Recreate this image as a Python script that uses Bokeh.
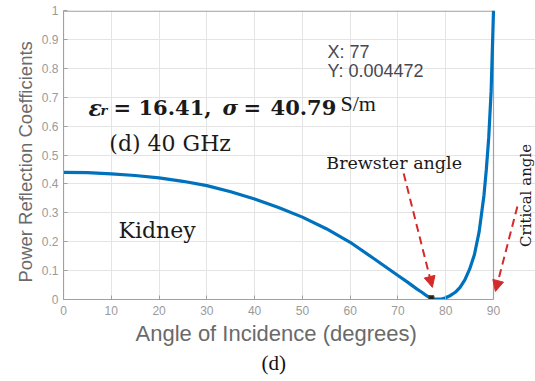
from bokeh.plotting import figure
from bokeh.models import Label, Arrow, NormalHead, Range1d, FixedTicker, Title, BoxAnnotation
from bokeh.embed import file_html
from bokeh.resources import INLINE

# Power reflection coefficient of kidney tissue at 40 GHz vs. angle of incidence
angle_deg = [0, 5, 10, 15, 20, 25, 30, 35, 40, 45, 50, 55, 60, 65, 70, 72, 74, 75,
             76, 77, 78, 79, 80, 81, 82, 83, 84, 85, 86, 87, 88, 88.5, 89, 89.5, 90]
reflection = [0.440, 0.439, 0.435, 0.429, 0.421, 0.409, 0.394, 0.373, 0.348, 0.318,
              0.285, 0.245, 0.198, 0.141, 0.083, 0.060, 0.036, 0.025, 0.013, 0.004472,
              0.001, 0.001, 0.006, 0.014, 0.025, 0.042, 0.068, 0.105, 0.155, 0.235,
              0.360, 0.450, 0.560, 0.720, 1.000]

x_ticks = [0, 10, 20, 30, 40, 50, 60, 70, 80, 90]
y_ticks = [0, 0.1, 0.2, 0.3, 0.4, 0.5, 0.6, 0.7, 0.8, 0.9, 1]
y_tick_labels = {0: "0", 0.1: "0.1", 0.2: "0.2", 0.3: "0.3", 0.4: "0.4", 0.5: "0.5",
                 0.6: "0.6", 0.7: "0.7", 0.8: "0.8", 0.9: "0.9", 1: "1"}

tip_x = 77
tip_y = 0.004472

AX_GRAY = "#a0a0a0"
TICK_GRAY = "#9a9a9a"
LABEL_GRAY = "#6a6a6a"
SERIF = "DejaVu Serif"
INK = "#1a1a1a"
RED = "#d42a2a"

# the plotting area runs past 90 deg so the right-hand annotation has room;
# the axes box itself is closed at 90 deg and at 1
p = figure(width=535, height=381, x_range=Range1d(0, 98.79), y_range=Range1d(0, 1),
           output_backend="svg", toolbar_location=None,
           min_border_left=63, min_border_right=0, min_border_top=10, min_border_bottom=82)
p.title.visible = False
p.outline_line_color = None
p.background_fill_color = "white"
p.border_fill_color = "white"

for ax in (p.xaxis[0], p.yaxis[0]):
    ax.axis_line_color = AX_GRAY
    ax.major_tick_line_color = AX_GRAY
    ax.major_tick_in = 4
    ax.major_tick_out = 0
    ax.minor_tick_line_color = None
    ax.major_label_text_color = TICK_GRAY
    ax.major_label_text_font = "Liberation Sans"
    ax.major_label_text_font_size = "12px"

p.xaxis.bounds = (0, 90)
p.xaxis.ticker = FixedTicker(ticks=x_ticks)
p.yaxis.ticker = FixedTicker(ticks=y_ticks)
p.yaxis.major_label_overrides = y_tick_labels
p.xaxis.major_label_standoff = 6
p.yaxis.major_label_standoff = 5

p.xgrid.ticker = FixedTicker(ticks=x_ticks)
p.ygrid.ticker = FixedTicker(ticks=y_ticks)
p.ygrid.bounds = (0, 90)
p.grid.grid_line_color = "#e4e4e4"
p.grid.grid_line_width = 1

# axes box
p.add_layout(BoxAnnotation(left=0, right=90, bottom=0, top=0.998,
                           fill_color=None, fill_alpha=0,
                           line_color=AX_GRAY, line_alpha=1, line_width=1.2,
                           level="underlay"))

p.line(angle_deg, reflection, line_color="#0072BD", line_width=3.2)
p.scatter([tip_x], [tip_y], marker="square", size=5, fill_color="#202020",
          line_color="#404020")

# axis titles and figure caption
p.add_layout(Title(text="Power Reflection Coefficients", align="left", offset=17,
                   text_font="Liberation Sans", text_font_size="18.5px",
                   text_font_style="normal", text_color=LABEL_GRAY, standoff=6), "left")
p.add_layout(Title(text="Angle of Incidence (degrees)", align="left", offset=72,
                   text_font="Liberation Sans", text_font_size="22px",
                   text_font_style="normal", text_color=LABEL_GRAY, standoff=2), "below")
p.add_layout(Title(text="(d)", align="left", offset=198, text_font="Liberation Serif",
                   text_font_size="21px", text_font_style="normal", text_color="#111111",
                   standoff=9, vertical_align="top"), "below")

# data tip
p.add_layout(Label(x=55.25, y=0.855, text="X: 77", text_font="Liberation Sans",
                   text_font_size="18px", text_color="#474752", text_baseline="middle"))
p.add_layout(Label(x=55.25, y=0.789, text="Y: 0.004472", text_font="Liberation Sans",
                   text_font_size="18px", text_color="#474752", text_baseline="middle"))

# material parameters
base = 0.664
p.add_layout(Label(x=5.23, y=base, text="ε", text_font=SERIF, text_font_style="bold italic",
                   text_font_size="22px", text_color=INK, text_baseline="alphabetic"))
p.add_layout(Label(x=7.74, y=base - 0.010, text="r", text_font=SERIF,
                   text_font_style="bold italic", text_font_size="13px", text_color=INK,
                   text_baseline="alphabetic"))
p.add_layout(Label(x=10.47, y=base, text="=", text_font=SERIF, text_font_style="bold",
                   text_font_size="21px", text_color=INK, text_baseline="alphabetic"))
p.add_layout(Label(x=15.70, y=base, text="16.41,", text_font=SERIF, text_font_style="bold",
                   text_font_size="21px", text_color=INK, text_baseline="alphabetic"))
p.add_layout(Label(x=33.28, y=base, text="σ", text_font=SERIF, text_font_style="bold italic",
                   text_font_size="21px", text_color=INK, text_baseline="alphabetic"))
p.add_layout(Label(x=37.67, y=base, text="=", text_font=SERIF, text_font_style="bold",
                   text_font_size="21px", text_color=INK, text_baseline="alphabetic"))
p.add_layout(Label(x=43.33, y=base, text="40.79", text_font=SERIF, text_font_style="bold",
                   text_font_size="21px", text_color=INK, text_baseline="alphabetic"))
p.add_layout(Label(x=57.98, y=base + 0.014, text="S/m", text_font="Liberation Serif",
                   text_font_size="22px", text_color=INK, text_baseline="alphabetic"))

p.add_layout(Label(x=9.6, y=0.540, text="(d) 40 GHz", text_font=SERIF,
                   text_font_size="22px", text_color=INK, text_baseline="middle"))
p.add_layout(Label(x=11.5, y=0.239, text="Kidney", text_font=SERIF,
                   text_font_size="22px", text_color=INK, text_baseline="middle"))
p.add_layout(Label(x=55.0, y=0.471, text="Brewster angle", text_font=SERIF,
                   text_font_size="17.5px", text_color=INK, text_baseline="middle"))
p.add_layout(Label(x=96.7, y=0.360, text="Critical angle", text_font=SERIF,
                   text_font_size="15px", text_color=INK, text_align="center",
                   text_baseline="middle", angle=90, angle_units="deg"))

# pointer arrows
for xs, ys, xe, ye in [(71.2, 0.436, 77.2, 0.042), (95.0, 0.322, 90.4, 0.028)]:
    p.add_layout(Arrow(x_start=xs, y_start=ys, x_end=xe, y_end=ye,
                       line_color=RED, line_width=2, line_dash="8 5",
                       end=NormalHead(size=11, fill_color=RED, line_color=RED)))

open("out.html", "w").write(file_html(p, INLINE))
